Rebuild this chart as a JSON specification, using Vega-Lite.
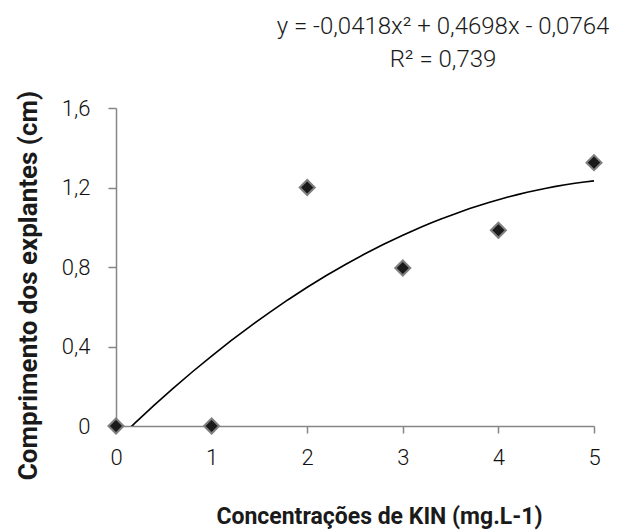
{
  "$schema": "https://vega.github.io/schema/vega-lite/v6.json",
  "width": 478,
  "height": 318,
  "autosize": {"type": "none"},
  "padding": {"left": 116, "top": 108, "right": 24, "bottom": 105},
  "background": "white",
  "config": {"view": {"stroke": null}, "font": "Roboto"},
  "title": {
    "text": ["y = -0,0418x² + 0,4698x - 0,0764", "R² = 0,739"],
    "anchor": "middle",
    "align": "center",
    "dx": 88,
    "fontSize": 24,
    "fontWeight": 300,
    "color": "#1a1a1a",
    "lineHeight": 33,
    "baseline": "alphabetic",
    "offset": -1
  },
  "data": {
    "values": [
      {"x": 0, "y": 0},
      {"x": 1, "y": 0},
      {"x": 2, "y": 1.2},
      {"x": 3, "y": 0.795},
      {"x": 4, "y": 0.985},
      {"x": 5, "y": 1.325}
    ]
  },
  "encoding": {
    "x": {
      "field": "x",
      "type": "quantitative",
      "scale": {"domain": [0, 5], "nice": false, "zero": false},
      "axis": {
        "values": [0, 1, 2, 3, 4, 5],
        "grid": false,
        "domainColor": "#868686",
        "domainWidth": 1.5,
        "tickColor": "#868686",
        "tickWidth": 1.5,
        "tickSize": 7,
        "labelPadding": 14,
        "labelFontSize": 22,
        "labelFontWeight": 300,
        "labelColor": "#111111",
        "labelFlush": false,
        "title": "Concentrações de KIN (mg.L-1)",
        "titleFontSize": 23,
        "titleFontWeight": "bold",
        "titleColor": "#1a1a1a",
        "titleX": 263,
        "titleY": 97,
        "titleBaseline": "alphabetic",
        "titleAlign": "center"
      }
    },
    "y": {
      "field": "y",
      "type": "quantitative",
      "scale": {"domain": [0, 1.6], "nice": false},
      "axis": {
        "values": [0, 0.4, 0.8, 1.2, 1.6],
        "labelExpr": "datum.value == 0 ? '0' : replace(format(datum.value, '.1f'), '.', ',')",
        "grid": false,
        "domainColor": "#868686",
        "domainWidth": 1.5,
        "tickColor": "#868686",
        "tickWidth": 1.5,
        "tickSize": 8,
        "labelPadding": 18,
        "labelFontSize": 22,
        "labelFontWeight": 300,
        "labelColor": "#111111",
        "labelFlush": false,
        "title": "Comprimento dos explantes (cm)",
        "titleFontSize": 26,
        "titleFontWeight": "bold",
        "titleColor": "#1a1a1a",
        "titleAngle": -90,
        "titleX": -88,
        "titleY": 177,
        "titleBaseline": "middle",
        "titleAlign": "center"
      }
    }
  },
  "layer": [
    {
      "transform": [
        {"regression": "y", "on": "x", "method": "poly", "order": 2, "extent": [0, 5]}
      ],
      "mark": {"type": "line", "color": "#000000", "strokeWidth": 1.6, "clip": true}
    },
    {
      "mark": {
        "type": "point",
        "shape": "diamond",
        "filled": true,
        "size": 225,
        "fill": "#1a1a1a",
        "stroke": "#7f7f7f",
        "strokeWidth": 2,
        "opacity": 1
      }
    }
  ]
}
